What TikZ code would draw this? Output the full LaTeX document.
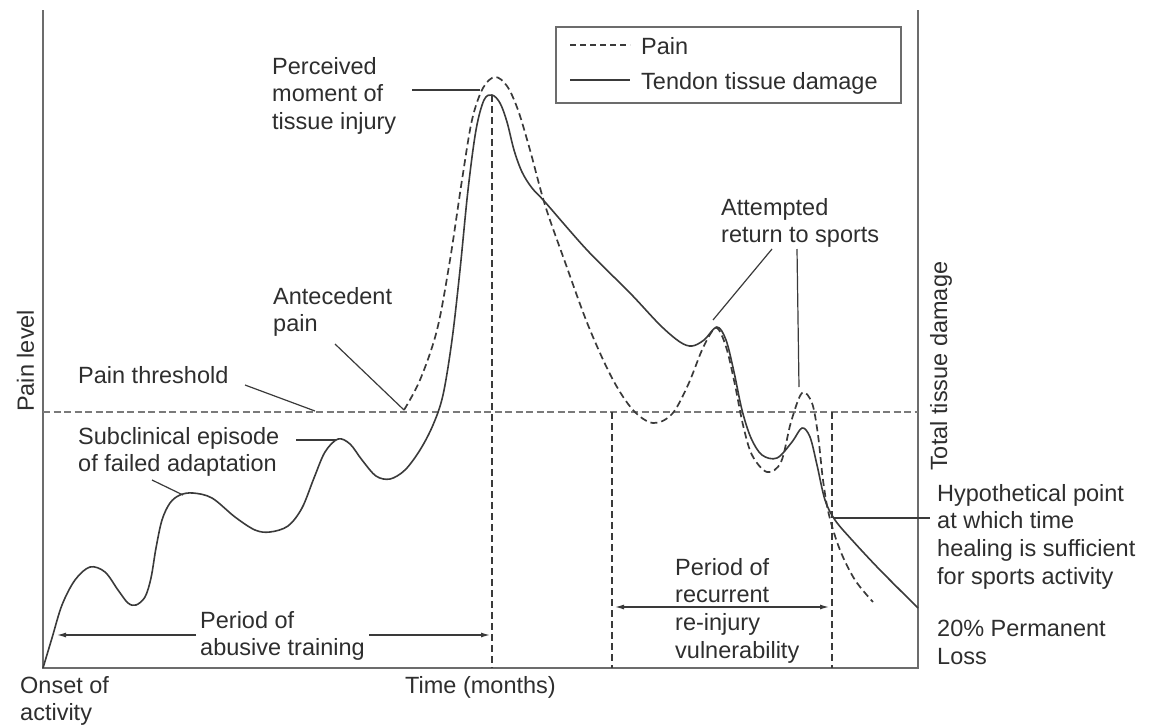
\documentclass[tikz,border=0pt]{standalone}
\usepackage{fontspec}
\setmainfont{Liberation Sans}
\usetikzlibrary{arrows.meta}
\definecolor{ink}{HTML}{2E2E2E}
\definecolor{curvecol}{HTML}{3A3A3A}
\definecolor{axiscol}{HTML}{6C6C6C}
\definecolor{guidecol}{HTML}{7A7A7A}

\begin{document}
\begin{tikzpicture}[x=1pt,y=-1pt,
  lbl/.style={anchor=north west, inner sep=0pt, align=left, text=ink,
              font=\fontsize{23.5}{27.7}\selectfont},
  vlbl/.style={anchor=base west, inner sep=0pt, rotate=90, text=ink,
              font=\fontsize{23.5}{27.7}\selectfont},
  axisline/.style={draw=axiscol, line width=2pt},
  damage/.style={draw=curvecol, line width=1.6pt, line join=round},
  paincurve/.style={draw=curvecol, line width=1.7pt, dash pattern=on 7pt off 4pt},
  threshold/.style={draw=guidecol, line width=1.8pt, dash pattern=on 7pt off 3.5pt},
  guide/.style={draw=curvecol, line width=1.2pt, dash pattern=on 7pt off 4pt},
  leader/.style={draw=curvecol, line width=1.2pt},
  period/.style={draw=curvecol, line width=1.2pt, -{Latex[length=9pt,width=5pt]}},
]
\useasboundingbox (0,0) rectangle (1157,726);

% axes
\coordinate (o) at (43,668);
\coordinate (ytop) at (43,10);
\coordinate (xend) at (918,668);
\coordinate (rtop) at (918,10);
\draw[axisline] (ytop) -- (o) -- (xend) -- (rtop);

% pain threshold and time markers
\coordinate (thL) at (43,412);
\coordinate (thR) at (918,412);
\draw[threshold] (thL) -- (thR);
\draw[guide] (492,95) -- (492,668);
\draw[guide] (612,412) -- (612,668);
\draw[guide] (832,412) -- (832,668);

% tendon tissue damage
\draw[damage] plot[smooth, tension=0.55] coordinates {
 (43,668) (52,638) (62,605) (75,580) (90,567) (105,572) (118,590) (128,603)
 (136,605) (145,597) (151,578) (156,548) (162,520) (170,503) (180,495) (193,493)
 (212,498) (235,517) (255,530) (270,532) (288,526) (302,508) (314,478) (325,452)
 (338,439) (350,444) (362,460) (376,476) (390,479) (405,470) (420,450) (433,425)
 (443,395) (452,340) (460,270) (468,190) (476,130) (484,100) (492,95) (500,103)
 (507,122) (514,150) (522,172) (532,188) (545,202) (587,250) (630,293) (660,325)
 (680,342) (692,346) (704,340) (717,327) (726,340) (734,372) (742,410) (751,438)
 (762,455) (777,458) (792,442) (802,428) (810,437) (817,465) (825,500) (835,520)
 (852,540) (880,570) (918,608)};

% pain
\draw[paincurve] plot[smooth, tension=0.55] coordinates {
 (404,410) (420,380) (437,330) (450,260) (462,180) (472,120) (483,88) (495,77)
 (507,86) (518,110) (530,150) (545,205) (565,262) (588,325) (612,378) (633,410)
 (653,423) (672,414) (688,385) (702,350) (713,330) (719,330) (727,350) (735,385)
 (743,425) (752,455) (767,472) (781,462) (791,422) (802,393) (812,403) (818,435)
 (823,480) (829,515) (840,550) (855,580) (873,602)};

% legend
\draw[draw=axiscol, line width=1.5pt] (556,27) rectangle (901,103);
\node[lbl] (lpain) at (641,37) {Pain};
\node[lbl] (ldamage) at (641,72) {Tendon tissue damage};
\coordinate (lp1) at (570,45);
\coordinate (lp2) at (630,45);
\coordinate (ld1) at (570,80);
\coordinate (ld2) at (630,80);
\draw[paincurve, dash pattern=on 6pt off 4pt] (lp1) -- (lp2);
\draw[damage] (ld1) -- (ld2);

% axis titles
\node[vlbl] (painlevel) at (34,412) {Pain level};
\node[vlbl] (totaldamage) at (947,471) {Total tissue damage};
\node[lbl] (onset) at (20,676) {Onset of\\activity};
\node[lbl] (time) at (405,676) {Time (months)};

% annotations
\node[lbl] (perceived) at (272,57) {Perceived\\moment of\\tissue injury};
\coordinate (perA) at (412,90);
\coordinate (perB) at (480,90);
\draw[leader] (perA) -- (perB);

\node[lbl] (antecedent) at (273,287) {Antecedent\\pain};
\coordinate (antA) at (335,344);
\coordinate (antB) at (404,410);
\draw[leader] (antA) -- (antB);

\node[lbl] (thresholdlbl) at (78,366) {Pain threshold};
\coordinate (thrA) at (245,385);
\coordinate (thrB) at (315,411);
\draw[leader] (thrA) -- (thrB);

\node[lbl] (subclinical) at (78,427) {Subclinical episode\\of failed adaptation};
\coordinate (subA) at (296,440);
\coordinate (subB) at (336,440);
\coordinate (subC) at (152,480);
\coordinate (subD) at (183,495);
\draw[leader] (subA) -- (subB);
\draw[leader] (subC) -- (subD);

\node[lbl] (attempted) at (721,198) {Attempted\\return to sports};
\coordinate (attA) at (772,249);
\coordinate (attB) at (713,320);
\coordinate (attC) at (797,249);
\coordinate (attD) at (799,387);
\draw[leader] (attA) -- (attB);
\draw[leader] (attC) -- (attD);

\node[lbl] (hypo) at (937,484) {Hypothetical point\\at which time\\healing is sufficient\\for sports activity};
\coordinate (hypA) at (833,518);
\coordinate (hypB) at (930,518);
\draw[leader] (hypA) -- (hypB);

\node[lbl] (permanent) at (937,620) {20\% Permanent\\Loss};

% periods
\node[lbl] (abusive) at (200,611) {Period of\\abusive training};
\coordinate (abL) at (57,635);
\coordinate (abR) at (490,635);
\draw[period] (abusive.west |- abL) ++(-4,0) -- (abL);
\draw[period] (abusive.east |- abR) ++(4,0) -- (abR);

\node[lbl] (recurrent) at (675,558) {Period of\\recurrent\\re-injury\\vulnerability};
\coordinate (reL) at (615,607);
\coordinate (reR) at (829,607);
\draw[period, {Latex[length=9pt,width=5pt]}-{Latex[length=9pt,width=5pt]}] (reL) -- (reR);
\end{tikzpicture}
\end{document}
